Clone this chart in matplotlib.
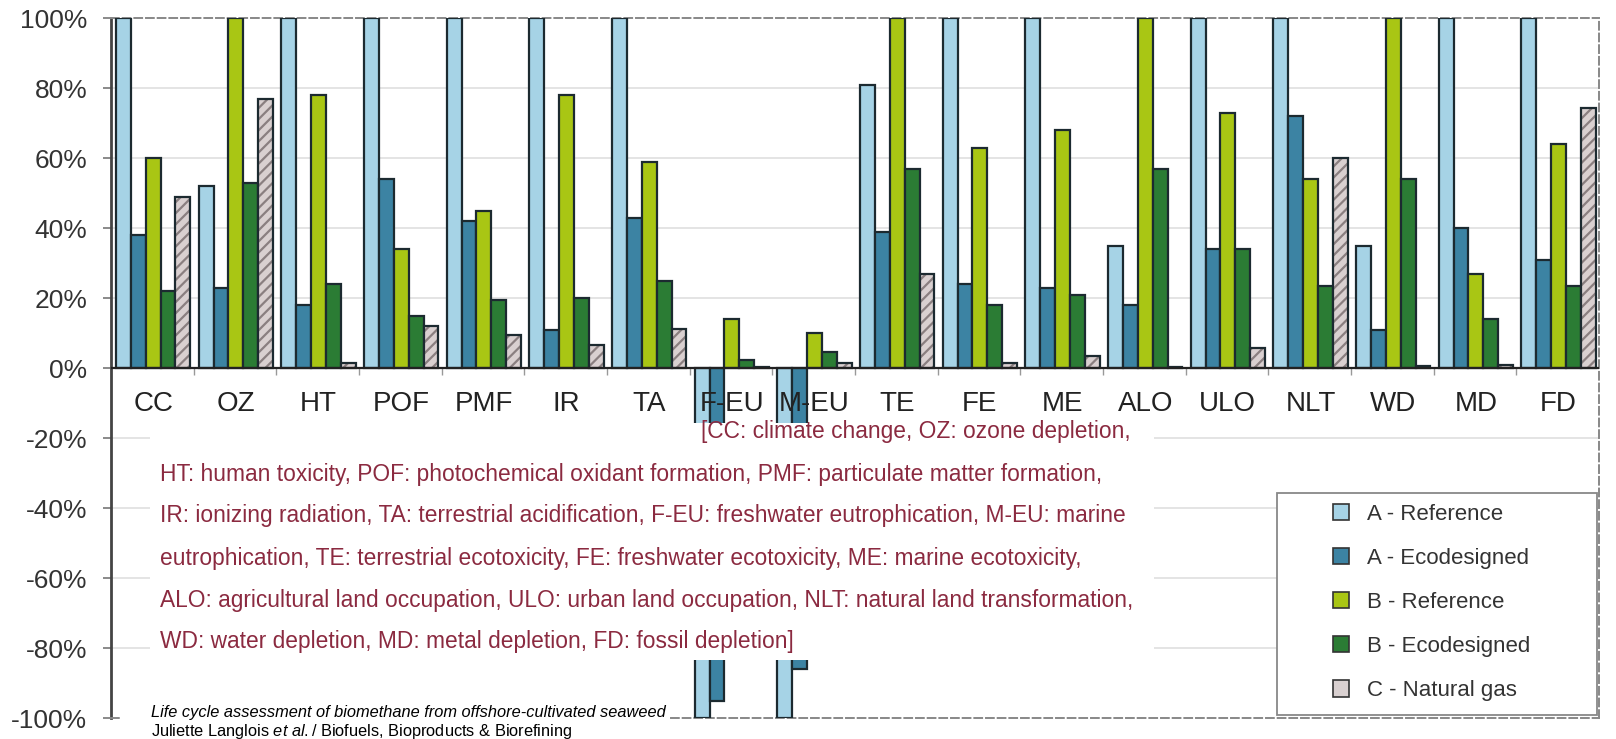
import numpy as np
import matplotlib
matplotlib.use('Agg')
from matplotlib import pyplot as plt
from matplotlib.patches import Rectangle, Patch

plt.rcParams['font.family'] = ['Liberation Sans', 'DejaVu Sans']
plt.rcParams['mathtext.fontset'] = 'custom'
plt.rcParams['mathtext.rm'] = 'Liberation Sans'
plt.rcParams['mathtext.it'] = 'Liberation Sans:italic'
plt.rcParams['hatch.linewidth'] = 1.6

# impact categories (ReCiPe midpoint), values relative to the max scenario [%]
categories = ['CC', 'OZ', 'HT', 'POF', 'PMF', 'IR', 'TA', 'F-EU', 'M-EU',
              'TE', 'FE', 'ME', 'ALO', 'ULO', 'NLT', 'WD', 'MD', 'FD']
a_ref = [100, 52, 100, 100, 100, 100, 100, -100, -100, 81, 100, 100, 35, 100, 100, 35, 100, 100]
a_eco = [38, 23, 18, 54, 42, 11, 43, -95, -86, 39, 24, 23, 18, 34, 72, 11, 40, 31]
b_ref = [60, 100, 78, 34, 45, 78, 59, 14, 10, 100, 63, 68, 100, 73, 54, 100, 27, 64]
b_eco = [22, 53, 24, 15, 19.5, 20, 25, 2.4, 4.7, 57, 18, 21, 57, 34, 23.5, 54, 14, 23.5]
c_gas = [49, 77, 1.6, 12, 9.4, 6.6, 11.3, 0.4, 1.4, 27, 1.4, 3.4, 0.3, 5.9, 60, 0.5, 1, 74.5]

labels = ['A - Reference', 'A - Ecodesigned', 'B - Reference', 'B - Ecodesigned', 'C - Natural gas']
colors = ['#a6d3e6', '#3c83a3', '#a9c614', '#2b7c34', '#d9d0d0']
edge = '#1c2a30'

definitions = [
    '[CC: climate change, OZ: ozone depletion,',
    'HT: human toxicity, POF: photochemical oxidant formation, PMF: particulate matter formation,',
    'IR: ionizing radiation, TA: terrestrial acidification, F-EU: freshwater eutrophication, M-EU: marine',
    'eutrophication, TE: terrestrial ecotoxicity, FE: freshwater ecotoxicity, ME: marine ecotoxicity,',
    'ALO: agricultural land occupation, ULO: urban land occupation, NLT: natural land transformation,',
    'WD: water depletion, MD: metal depletion, FD: fossil depletion]',
]

fig = plt.figure(figsize=(16.16, 7.39), dpi=100)
ax = fig.add_axes([0.0687, 0.0284, 0.9208, 0.9466])

n = len(categories)
x = np.arange(n)
w = 0.18
off = 0.06
series = [a_ref, a_eco, b_ref, b_eco, c_gas]
for k, (vals, col, lab) in enumerate(zip(series, colors, labels)):
    pos = x + off + w * (k + 0.5)
    if k < 4:
        ax.bar(pos, vals, w, color=col, edgecolor=edge, linewidth=1.6, zorder=3, label=lab)
    else:
        # hatch in grey, outline drawn separately in dark
        ax.bar(pos, vals, w, color=col, edgecolor='#8a7f80', hatch='///', linewidth=0, zorder=3)
        ax.bar(pos, vals, w, color='none', edgecolor=edge, linewidth=1.6, zorder=3.1)

ax.set_xlim(0, n)
ax.set_ylim(-100, 100)
ax.set_yticks(np.arange(-100, 101, 20))
ax.set_yticklabels(['{}%'.format(v) for v in range(-100, 101, 20)])
ax.tick_params(axis='y', labelsize=19, labelcolor='#333333', color='#777777', length=6, width=1.2, pad=11)
ax.set_xticks([])
for v in range(-80, 100, 20):
    if v != 0:
        ax.axhline(v, color='#e2e2e2', lw=1.3, zorder=1)
ax.axhline(0, color='#222222', lw=1.6, zorder=4)
ax.vlines(x[1:], -1.8, 0, color='#999999', lw=1, zorder=2)

for s in ['top', 'right', 'bottom']:
    ax.spines[s].set_linestyle((0, (4, 2)))
    ax.spines[s].set_color('#888888')
    ax.spines[s].set_linewidth(1.4)
ax.spines['left'].set_color('#444444')
ax.spines['left'].set_linestyle((0, (2, 1)))
ax.spines['left'].set_linewidth(2)

for i, c in enumerate(categories):
    ax.text(i + 0.51, -10.3, c, ha='center', va='center', fontsize=20, color='#222222', zorder=4)

# white panel holding the category definitions
ax.add_patch(Rectangle((0.026, 0.083), 0.675, 0.339, transform=ax.transAxes,
                       facecolor='white', edgecolor='none', zorder=5))
ys = [0.410, 0.3488, 0.290, 0.2287, 0.1687, 0.110]
for j, (line, yy) in enumerate(zip(definitions, ys)):
    ax.text(0.3965 if j == 0 else 0.0329, yy, line, transform=ax.transAxes, ha='left', va='center',
            fontsize=16.4, color='#8b2a40', zorder=6)

# legend in its own box
ax.add_patch(Rectangle((0.7836, 0.0043), 0.2151, 0.3174, transform=ax.transAxes,
                       facecolor='white', edgecolor='#888888', lw=1.3, zorder=5))
handles = [Patch(facecolor=c, edgecolor='#333333', lw=1.2) for c in colors]
leg = ax.legend(handles, labels, loc='upper left', bbox_to_anchor=(0.815, 0.319), frameon=False,
                fontsize=16, handlelength=0.75, handleheight=0.75, handletextpad=0.8,
                labelspacing=1.04, borderaxespad=0)
leg.set_zorder(6)
for t in leg.get_texts():
    t.set_color('#333333')

# source note, bottom left
fig.patches.append(Rectangle((0.074, 0.0), 0.34, 0.0595, transform=fig.transFigure,
                             facecolor='white', edgecolor='none', zorder=1))
fig.text(0.0934, 0.0365, 'Life cycle assessment of biomethane from offshore-cultivated seaweed',
         fontsize=11.8, style='italic', va='center', ha='left')
fig.text(0.0934, 0.0095, r'Juliette Langlois $\mathit{et\ al.}$/ Biofuels, Bioproducts & Biorefining',
         fontsize=11.8, va='center', ha='left')

plt.savefig('out.png', dpi=100)
